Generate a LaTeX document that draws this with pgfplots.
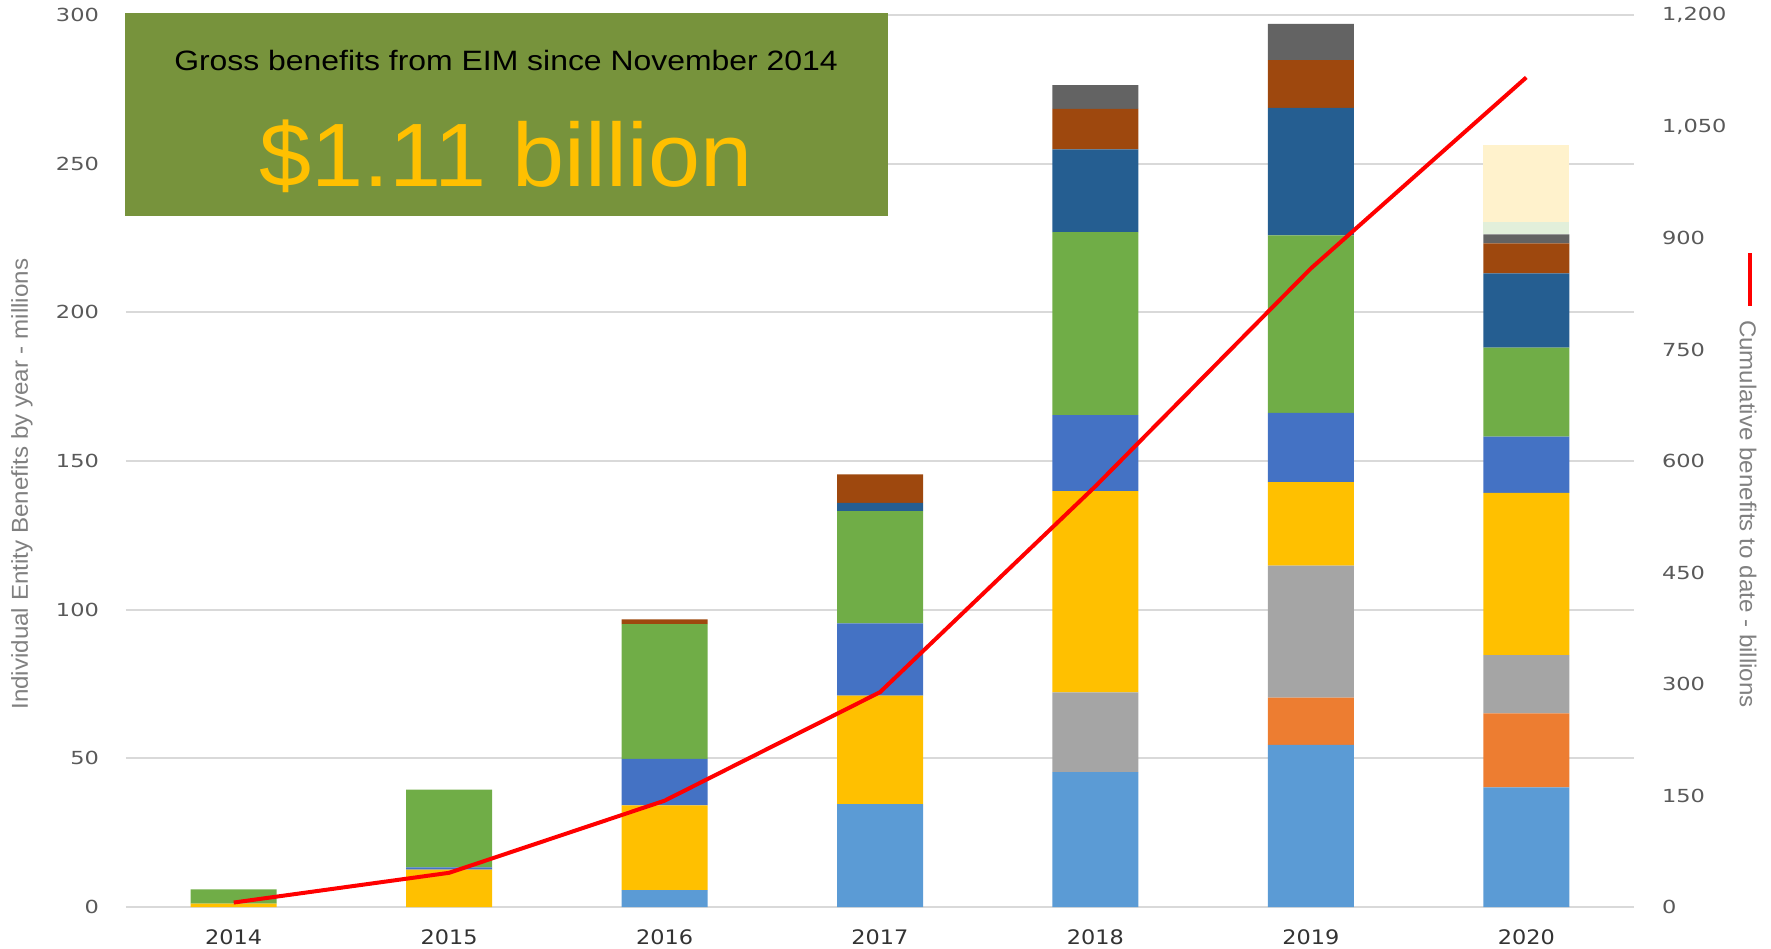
\documentclass[border=0pt]{standalone}
\usepackage{pgfplots}
\pgfplotsset{compat=1.18}
\usepackage{pgfplotstable}
\usepackage{fontspec}
\setmainfont{Liberation Sans}
\newfontfamily\tickfont[FakeStretch=1.25]{DejaVu Sans}
\newfontfamily\xtickfont[FakeStretch=1.12]{DejaVu Sans}
\newfontfamily\labelfont[FakeStretch=1.05]{Liberation Sans}
\newfontfamily\headfont[FakeStretch=1.14]{Liberation Sans}
\newfontfamily\bigfont[FakeStretch=1.04]{Liberation Sans}

\definecolor{cLB}{HTML}{5B9BD5}
\definecolor{cOR}{HTML}{ED7D31}
\definecolor{cGR}{HTML}{A5A5A5}
\definecolor{cGO}{HTML}{FFC000}
\definecolor{cBL}{HTML}{4472C4}
\definecolor{cGN}{HTML}{70AD47}
\definecolor{cDB}{HTML}{255E91}
\definecolor{cDO}{HTML}{9E480E}
\definecolor{cDG}{HTML}{636363}
\definecolor{cLG}{HTML}{E2EFDA}
\definecolor{cLY}{HTML}{FFF2CC}
\definecolor{boxgreen}{HTML}{77933C}
\definecolor{gridgray}{HTML}{D9D9D9}
\definecolor{ticktext}{HTML}{595959}
\definecolor{labeltext}{HTML}{808080}

% yearly benefits by entity, millions (stacked bottom to top)
\pgfplotstableread{
x  LB   OR   GR   GO   BL   GN   DB   DO   DG   LG  LY
0  0    0    0    1.1  0    4.8  0    0    0    0   0
1  0    0    0    12.6 0.7  26.2 0    0    0    0   0
2  5.7  0    0    28.5 15.6 45.3 0    1.6  0    0   0
3  34.6 0    0    36.5 24.3 37.7 2.8  9.6  0    0   0
4  45.4 0    26.8 67.7 25.5 61.6 27.8 13.6 8.0  0   0
5  54.5 15.9 44.4 28.1 23.3 59.7 42.9 16.0 12.2 0   0
6  40.2 24.9 19.6 54.6 18.9 29.9 25.0 10.1 3.0  4.2 25.8
}\benefits

% cumulative benefits
\pgfplotstableread{
x  cum
0  6
1  46
2  143
3  289
4  566
5  859
6  1116
}\cumulative

\begin{document}
\begin{tikzpicture}
\begin{axis}[
    scale only axis,
    width=754pt, height=446pt,
    xmin=-0.5, xmax=6.5,
    ymin=0, ymax=300,
    ybar stacked,
    bar width=43pt,
    xtick=data,
    xticklabels={2014,2015,2016,2017,2018,2019,2020},
    ytick={0,50,...,300},
    major tick length=0pt,
    axis line style={draw=none},
    ymajorgrids,
    grid style={color=gridgray, line width=1pt},
    /pgf/number format/assume math mode=true,
    yticklabel style={font=\tickfont\fontsize{9}{10}\selectfont, text=ticktext, xshift=-10pt},
    xticklabel style={font=\xtickfont\fontsize{10}{12}\selectfont, text=black!80, yshift=-7.7pt},
    ylabel={Individual Entity Benefits by year - millions},
    ylabel style={font=\labelfont\fontsize{11.5}{13}\selectfont, text=labeltext,
        at={(axis description cs:-0.069,0.474)}, anchor=center},
    clip=false,
]
\addplot[fill=cLB, draw=none] table[x=x, y=LB] {\benefits};
\addplot[fill=cOR, draw=none] table[x=x, y=OR] {\benefits};
\addplot[fill=cGR, draw=none] table[x=x, y=GR] {\benefits};
\addplot[fill=cGO, draw=none] table[x=x, y=GO] {\benefits};
\addplot[fill=cBL, draw=none] table[x=x, y=BL] {\benefits};
\addplot[fill=cGN, draw=none] table[x=x, y=GN] {\benefits};
\addplot[fill=cDB, draw=none] table[x=x, y=DB] {\benefits};
\addplot[fill=cDO, draw=none] table[x=x, y=DO] {\benefits};
\addplot[fill=cDG, draw=none] table[x=x, y=DG] {\benefits};
\addplot[fill=cLG, draw=none] table[x=x, y=LG] {\benefits};
\addplot[fill=cLY, draw=none] table[x=x, y=LY] {\benefits};
\end{axis}

% headline box
\fill[boxgreen] (-0.5pt,345.5pt) rectangle (381pt,446.75pt);
\node[font=\headfont\fontsize{14}{16}\selectfont, text=black] at (190pt,423pt)
    {Gross benefits from EIM since November 2014};
\node[font=\bigfont\fontsize{45}{50}\selectfont, text=cGO] at (190pt,375.5pt)
    {\$1.11 billion};

\begin{axis}[
    scale only axis,
    width=754pt, height=446pt,
    xmin=-0.5, xmax=6.5,
    ymin=0, ymax=1200,
    axis x line=none,
    axis y line*=right,
    axis line style={draw=none},
    xtick=\empty,
    ytick={0,150,...,1200},
    major tick length=0pt,
    /pgf/number format/assume math mode=true,
    /pgf/number format/1000 sep={,},
    yticklabel style={font=\tickfont\fontsize{9}{10}\selectfont, text=ticktext, xshift=10.5pt},
    ylabel={Cumulative benefits to date - billions},
    ylabel style={font=\labelfont\fontsize{11.5}{13}\selectfont, text=labeltext,
        at={(axis description cs:1.0756,0.4406)}, anchor=center, rotate=180},
    clip=false,
]
\addplot[red, line width=2pt, mark=none] table[x=x, y=cum] {\cumulative};
\end{axis}

% legend key for the line series
\draw[red, line width=2pt] (812pt,300.5pt) -- (812pt,327pt);

\pgfresetboundingbox
\path (-63pt,-20.5pt) rectangle (822.5pt,453.5pt);
\end{tikzpicture}
\end{document}
